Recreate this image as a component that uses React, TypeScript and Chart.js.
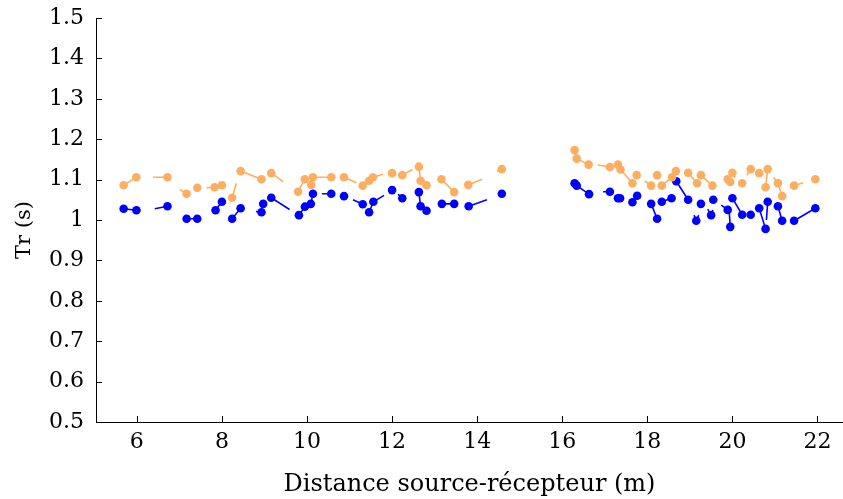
import React, { useEffect, useRef } from 'react';
import { Chart, registerables } from 'chart.js';

Chart.register(...registerables);

const xTickValues = [6, 8, 10, 12, 14, 16, 18, 20, 22];
const yTickValues = [0.5, 0.6, 0.7, 0.8, 0.9, 1, 1.1, 1.2, 1.3, 1.4, 1.5];
const xTitle = 'Distance source-récepteur (m)';
const yTitle = 'Tr (s)';

// Orange series (markers)
const orangeX = [5.69, 5.99, 6.72, 7.17, 7.42, 7.83, 8.0, 8.24, 8.44, 8.93, 9.16, 9.79, 9.95, 10.1, 10.14, 10.57, 10.87, 11.31, 11.46, 11.55, 12.0, 12.24, 12.63, 12.67, 12.81, 13.16, 13.46, 13.79, 14.58,
  16.29, 16.34, 16.62, 17.12, 17.31, 17.37, 17.65, 17.75, 18.09, 18.23, 18.34, 18.58, 18.67, 18.96, 19.17, 19.26, 19.53, 19.89, 19.95, 20.0, 20.23, 20.43, 20.63, 20.83, 20.78, 21.07, 21.17, 21.45, 21.95];
const orangeY = [1.086, 1.106, 1.106, 1.065, 1.08, 1.081, 1.086, 1.055, 1.121, 1.101, 1.116, 1.07, 1.101, 1.087, 1.106, 1.106, 1.106, 1.085, 1.097, 1.106, 1.116, 1.111, 1.132, 1.097, 1.086, 1.101, 1.069, 1.087, 1.126,
  1.173, 1.152, 1.137, 1.131, 1.137, 1.125, 1.091, 1.111, 1.085, 1.111, 1.085, 1.106, 1.121, 1.117, 1.091, 1.111, 1.085, 1.101, 1.094, 1.117, 1.091, 1.126, 1.116, 1.126, 1.081, 1.091, 1.059, 1.085, 1.101];

// Orange connecting segments
const orangeSegX1 = [5.69, 6.38, 7.01, 7.64, 7.83, 8.34, 8.44, 9.16, 9.79, 10.14, 10.87, 11.31, 11.46, 11.55, 12.24, 12.63, 12.67, 13.16, 13.79, 14.47, 16.29, 16.34, 16.84, 17.31, 17.37, 17.94, 18.34, 18.58, 18.96, 19.26, 20.0, 20.34, 20.83, 20.97, 21.07, 21.45];
const orangeSegY1 = [1.086, 1.106, 1.076, 1.08, 1.081, 1.091, 1.121, 1.116, 1.07, 1.106, 1.106, 1.085, 1.097, 1.106, 1.111, 1.132, 1.097, 1.101, 1.087, 1.12, 1.173, 1.152, 1.136, 1.137, 1.125, 1.097, 1.085, 1.106, 1.117, 1.111, 1.117, 1.111, 1.126, 1.105, 1.091, 1.085];
const orangeSegX2 = [5.99, 6.72, 7.17, 7.83, 8.0, 8.24, 8.93, 9.44, 9.95, 10.57, 11.16, 11.46, 11.55, 11.79, 12.48, 12.67, 12.81, 13.46, 14.12, 14.58, 16.34, 16.62, 17.12, 17.37, 17.65, 18.09, 18.58, 18.67, 19.17, 19.53, 20.07, 20.43, 20.78, 21.07, 21.17, 21.66];
const orangeSegY2 = [1.106, 1.106, 1.065, 1.081, 1.086, 1.055, 1.101, 1.095, 1.101, 1.106, 1.092, 1.097, 1.106, 1.113, 1.125, 1.097, 1.086, 1.069, 1.101, 1.126, 1.152, 1.137, 1.131, 1.125, 1.091, 1.085, 1.106, 1.121, 1.091, 1.085, 1.105, 1.126, 1.081, 1.091, 1.059, 1.092];

// Blue series (markers)
const blueX = [5.69, 5.99, 6.72, 7.17, 7.42, 7.85, 8.0, 8.24, 8.44, 8.93, 8.97, 9.16, 9.81, 9.95, 10.09, 10.14, 10.57, 10.87, 11.31, 11.46, 11.56, 12.0, 12.24, 12.63, 12.67, 12.81, 13.17, 13.46, 13.8, 14.58,
  16.29, 16.34, 16.63, 17.12, 17.31, 17.36, 17.65, 17.76, 18.09, 18.23, 18.34, 18.57, 18.68, 18.96, 19.15, 19.26, 19.5, 19.55, 19.89, 19.95, 20.0, 20.23, 20.43, 20.63, 20.78, 20.83, 21.07, 21.17, 21.45, 21.95];
const blueY = [1.028, 1.024, 1.034, 1.003, 1.003, 1.024, 1.045, 1.003, 1.029, 1.019, 1.04, 1.055, 1.012, 1.033, 1.04, 1.065, 1.065, 1.059, 1.039, 1.019, 1.045, 1.074, 1.054, 1.069, 1.034, 1.023, 1.04, 1.04, 1.034, 1.065,
  1.091, 1.085, 1.064, 1.07, 1.054, 1.054, 1.044, 1.06, 1.04, 1.003, 1.045, 1.054, 1.096, 1.05, 0.998, 1.04, 1.012, 1.05, 1.025, 0.983, 1.054, 1.013, 1.013, 1.029, 0.978, 1.045, 1.034, 0.998, 0.998, 1.029];

// Blue connecting segments
const blueSegX1 = [5.69, 6.42, 7.17, 7.85, 8.24, 8.8, 9.16, 9.81, 10.09, 10.35, 11.08, 11.46, 11.56, 12.14, 12.63, 12.67, 13.17, 13.8, 16.29, 16.34, 16.96, 17.31, 17.65, 17.76, 18.09, 18.34, 18.68, 19.1, 19.21, 19.42, 19.54, 19.74, 20.0, 19.95, 20.63, 20.83, 21.07, 21.45];
const blueSegY1 = [1.028, 1.028, 1.003, 1.024, 1.003, 1.021, 1.055, 1.012, 1.04, 1.065, 1.05, 1.019, 1.045, 1.064, 1.069, 1.034, 1.04, 1.034, 1.091, 1.085, 1.07, 1.054, 1.044, 1.06, 1.04, 1.045, 1.096, 1.012, 1.012, 1.027, 1.025, 1.037, 1.054, 0.983, 1.029, 1.045, 1.034, 0.998];
const blueSegX2 = [5.99, 6.72, 7.42, 8.0, 8.44, 8.93, 9.59, 9.95, 10.14, 10.57, 11.31, 11.56, 11.81, 12.24, 12.67, 12.81, 13.46, 14.23, 16.34, 16.63, 17.12, 17.36, 17.76, 17.84, 18.23, 18.57, 18.96, 19.15, 19.15, 19.5, 19.5, 19.89, 20.23, 19.92, 20.78, 20.8, 21.17, 21.95];
const blueSegY2 = [1.024, 1.034, 1.003, 1.045, 1.029, 1.019, 1.026, 1.033, 1.065, 1.065, 1.039, 1.045, 1.061, 1.054, 1.034, 1.023, 1.04, 1.05, 1.085, 1.064, 1.07, 1.054, 1.06, 1.054, 1.003, 1.054, 1.05, 0.998, 0.998, 1.012, 1.012, 1.025, 1.013, 1.029, 0.978, 1.0, 0.998, 1.029];

const ORANGE = '#fdae61';
const BLUE = '#0000ff';
const FONT = "'DejaVu Serif', 'Liberation Serif', serif";

function points(xs: number[], ys: number[]) {
  return xs.map((x, i) => ({ x, y: ys[i] }));
}

function segments(x1: number[], y1: number[], x2: number[], y2: number[]) {
  const out: { x: number; y: number | null }[] = [];
  x1.forEach((_, i) => {
    out.push({ x: x1[i], y: y1[i] });
    out.push({ x: x2[i], y: y2[i] });
    out.push({ x: x2[i], y: null });
  });
  return out;
}

const innerTicks = {
  id: 'innerTicks',
  afterDatasetsDraw(chart: any) {
    const { ctx, chartArea, scales } = chart;
    const len = 6;
    ctx.save();
    ctx.strokeStyle = '#000';
    ctx.lineWidth = 1;
    ctx.beginPath();
    xTickValues.forEach((v) => {
      const px = Math.round(scales.x.getPixelForValue(v)) + 0.5;
      ctx.moveTo(px, chartArea.bottom);
      ctx.lineTo(px, chartArea.bottom - len);
    });
    yTickValues.forEach((v) => {
      const py = Math.round(scales.y.getPixelForValue(v)) + 0.5;
      ctx.moveTo(chartArea.left, py);
      ctx.lineTo(chartArea.left + len, py);
    });
    ctx.stroke();
    // y-axis title, placed slightly below the axis centre as in the reference
    ctx.save();
    ctx.translate(25, (chartArea.top + chartArea.bottom) / 2 + 10);
    ctx.rotate(-Math.PI / 2);
    ctx.fillStyle = '#000';
    ctx.font = `21px ${FONT}`;
    ctx.textAlign = 'center';
    ctx.textBaseline = 'middle';
    ctx.fillText(yTitle, 0, 0);
    ctx.restore();
    ctx.restore();
  },
};

export default function App() {
  const ref = useRef<HTMLCanvasElement>(null);

  useEffect(() => {
    if (!ref.current) return;
    const chart = new Chart(ref.current, {
      type: 'scatter',
      data: {
        datasets: [
          {
            type: 'line',
            data: segments(orangeSegX1, orangeSegY1, orangeSegX2, orangeSegY2) as any,
            borderColor: ORANGE,
            borderWidth: 1.6,
            pointRadius: 0,
            spanGaps: false,
            fill: false,
          },
          {
            data: points(orangeX, orangeY),
            backgroundColor: ORANGE,
            borderColor: ORANGE,
            pointRadius: 4.3,
            borderWidth: 0,
          },
          {
            type: 'line',
            data: segments(blueSegX1, blueSegY1, blueSegX2, blueSegY2) as any,
            borderColor: BLUE,
            borderWidth: 1.6,
            pointRadius: 0,
            spanGaps: false,
            fill: false,
          },
          {
            data: points(blueX, blueY),
            backgroundColor: BLUE,
            borderColor: BLUE,
            pointRadius: 4.3,
            borderWidth: 0,
          },
        ],
      },
      options: {
        animation: false,
        responsive: true,
        maintainAspectRatio: false,
        layout: { autoPadding: false, padding: { top: 18, right: 0, left: 0, bottom: 0 } },
        plugins: { legend: { display: false }, tooltip: { enabled: false } },
        scales: {
          x: {
            type: 'linear',
            min: 5.04,
            max: 22.6,
            afterBuildTicks: (s: any) => {
              s.ticks = xTickValues.map((v) => ({ value: v }));
            },
            afterFit: (s: any) => {
              s.height = 77;
              s.paddingLeft = 0;
              s.paddingRight = 0;
            },
            grid: { display: true, drawOnChartArea: false, drawTicks: false },
            border: { display: true, color: '#000', width: 1 },
            ticks: { color: '#000', font: { family: FONT, size: 22 }, padding: 7, maxRotation: 0 },
            title: {
              display: true,
              text: xTitle,
              color: '#000',
              font: { family: FONT, size: 24 },
              padding: { top: 0, bottom: 0 },
            },
          },
          y: {
            type: 'linear',
            min: 0.5,
            max: 1.5,
            afterBuildTicks: (s: any) => {
              s.ticks = yTickValues.map((v) => ({ value: v }));
            },
            afterFit: (s: any) => {
              s.width = 96;
              s.paddingTop = 0;
              s.paddingBottom = 0;
            },
            grid: { display: true, drawOnChartArea: false, drawTicks: false },
            border: { display: true, color: '#000', width: 1 },
            ticks: {
              color: '#000',
              font: { family: FONT, size: 22 },
              padding: 12,
              callback: (v: any) => String(Math.round(Number(v) * 10) / 10),
            },
            title: { display: false },
          },
        },
      },
      plugins: [innerTicks],
    });
    return () => chart.destroy();
  }, []);

  return (
    <div style={{ position: 'absolute', left: 0, top: 0, width: 843, height: 499, background: '#fff' }}>
      <canvas ref={ref} />
    </div>
  );
}
